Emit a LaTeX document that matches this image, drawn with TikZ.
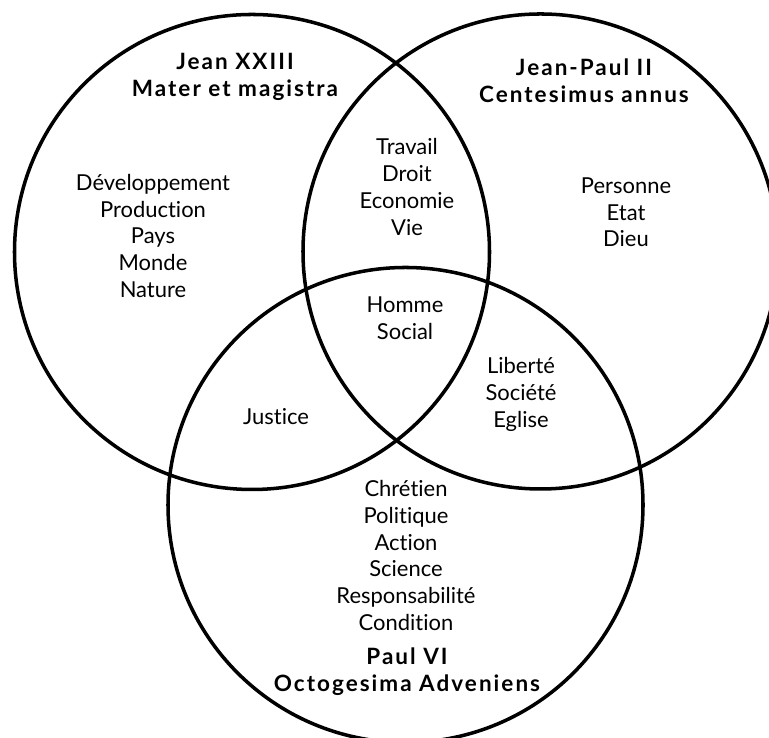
\documentclass[tikz,border=0pt]{standalone}
\usepackage{fontspec}
\setmainfont{Lato}[Ligatures=NoCommon]
\usetikzlibrary{positioning}

\begin{document}
\begin{tikzpicture}[
	venn/.style={line width=2pt, draw=black},
	words/.style={align=center, font=\fontsize{12.5}{15.2}\selectfont, inner sep=0pt},
	title/.style={words, font=\fontsize{12.8}{15.4}\selectfont\bfseries\addfontfeature{LetterSpace=9}}
	]

	\useasboundingbox (0,0) rectangle (15.38,14.76);
	\clip (0,0) rectangle (15.38,14.76);

	% centres of the three circles
	\coordinate (jean) at (5.04,9.72);
	\coordinate (jeanpaul) at (10.81,9.73);
	\coordinate (paul) at (8.11,4.66);

	\foreach \c in {jean,jeanpaul,paul}{
		\draw[venn] (\c) circle (4.75);
	}

	% titles
	\node[title] (jeantitle) at (4.70,13.23) {Jean XXIII\\Mater et magistra};
	\node[title] (jeanpaultitle) at (11.68,13.15) {Jean-Paul II\\Centesimus annus};
	\node[title] (paultitle) at (8.14,1.33) {Paul VI\\Octogesima Adveniens};

	% words of each region
	\node[words] (jeanonly) at (3.06,10.04) {Développement\\Production\\Pays\\Monde\\Nature};
	\node[words] (jeanpaulonly) at (12.52,10.51) {Personne\\Etat\\Dieu};
	\node[words] (paulonly) at (8.12,3.65) {Chrétien\\Politique\\Action\\Science\\Responsabilité\\Condition};
	\node[words] (jeanjeanpaul) at (8.14,11.02) {Travail\\Droit\\Economie\\Vie};
	\node[words] (jeanpaul) at (5.52,6.42) {Justice};
	\node[words] (jeanpaulpaul) at (10.42,6.87) {Liberté\\Société\\Eglise};
	\node[words] (all) at (8.10,8.40) {Homme\\Social};

\end{tikzpicture}
\end{document}
